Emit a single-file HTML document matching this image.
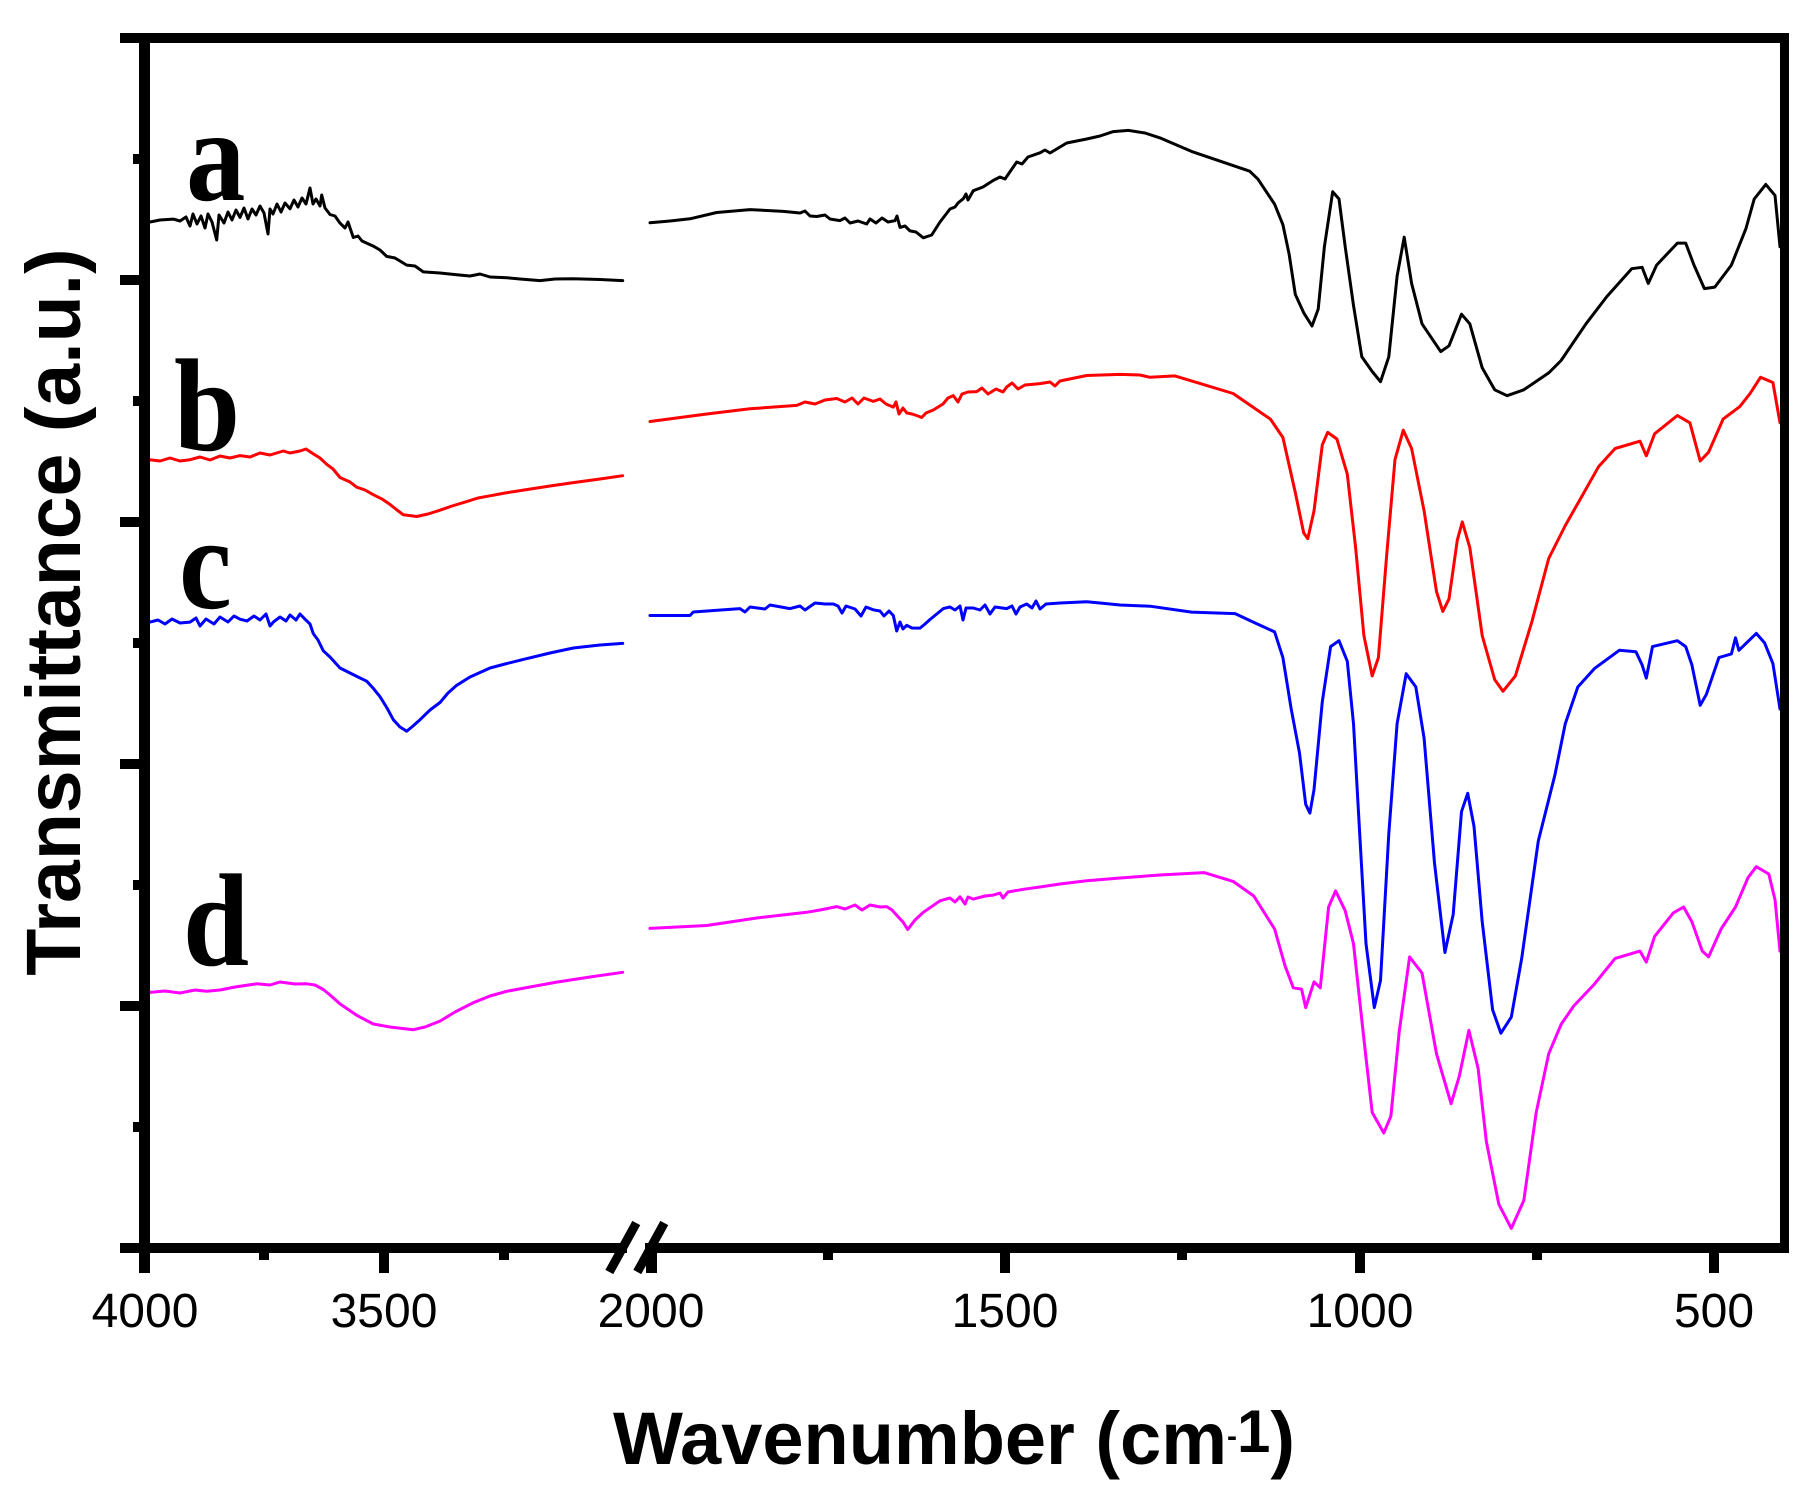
<!DOCTYPE html>
<html><head><meta charset="utf-8"><style>
html,body{margin:0;padding:0;background:#fff;}
svg{display:block;}
</style></head><body>
<svg width="1817" height="1492" viewBox="0 0 1817 1492" xmlns="http://www.w3.org/2000/svg">
<rect width="1817" height="1492" fill="#fff"/>
<g fill="none" stroke-width="3" stroke-linejoin="round" stroke-linecap="round">
<!-- black a -->
<path stroke="#000" d="M150,222 L160,220 L173.3,219.1 L180,221 L186,217 L190,226 L193,214 L197,224 L201,216 L205,228 L208,214 L212,222 L216.7,240 L219,215 L224,223 L228,212 L232,220 L236,210 L240,217.4 L244,208 L248,219 L252,209 L256,215 L260,206 L264,213 L268,234 L270,209 L273,214 L277,204 L281,212 L285,203 L290,208.8 L294,200 L298,207 L302,198 L306,204 L310,188 L313,204 L316,199 L320,206 L321.7,195 L325,208 L330,214.5 L335,216 L340,223.1 L345,228 L348,222 L353.3,237.5 L358,236 L362,241 L373.3,246.1 L380,250 L386.7,256.4 L395,258 L406.7,265.1 L415,266 L423.3,271.9 L440,273 L456.7,274.8 L470,276 L480,274 L490,277 L506.7,277.7 L520,279 L540,280.6 L555,279 L573.3,278.8 L600,279.5 L622.7,280.6"/>
<path stroke="#000" d="M650,222.8 L670,221 L690,218.8 L716.7,212.5 L750,209.6 L783.3,211.4 L800,213 L805,211 L810,216 L816.7,216.5 L825,215 L830,219 L840,220.6 L845,218 L850,223 L858,221 L866.7,224 L870,219 L876,223 L882,218 L888,222 L895,220.6 L897,216 L900,227.4 L905,226 L910,230.9 L916,232 L923.3,237.8 L931.7,235 L940,222 L950,209 L955,207 L958,203 L963.3,198.7 L966,194 L968,200 L973.3,190.7 L983,187 L993.3,180.4 L1000,177 L1005,179 L1016.7,162 L1022,164 L1028,157 L1040,152.8 L1045,150 L1050,153 L1066.7,143 L1086.7,139 L1100,136 L1113.3,131.6 L1128.3,130.4 L1145,133 L1160,137.9 L1191.5,151.4 L1249.7,171.2 L1258,179.2 L1274.6,204.2 L1282.9,224.7 L1289.1,254 L1295.3,294.4 L1303.7,312.8 L1312,326 L1318.2,309.1 L1324.4,246.7 L1332.7,191.7 L1339,199 L1345.2,246.7 L1353.5,305.4 L1361.8,356.8 L1372.2,371.5 L1380.5,381.7 L1388.8,356.8 L1397.1,276.1 L1404.2,237.2 L1411.6,283.4 L1422,323.8 L1440.7,351.6 L1449,345.8 L1461.5,314.2 L1469.8,323.8 L1482.2,367.8 L1494.7,389.8 L1507.1,395.7 L1523.8,389.8 L1548.7,372.9 L1561.1,360.5 L1586,323.8 L1606.8,296.6 L1631.7,268.7 L1642.1,267.3 L1648.3,283.4 L1656.6,265.1 L1677.4,243.1 L1685.7,243.1 L1694,265.1 L1704.4,288.6 L1714.8,287.1 L1731.4,265.1 L1746,228.4 L1754.2,199 L1765.8,184.4 L1775,195.4 L1780,246.7"/>
<!-- red b -->
<path stroke="#ff0000" d="M150,459.7 L160,461 L170,458 L180,461 L190,459.7 L200,457 L210,460 L220,456 L230,458 L240,455.6 L250,457 L260,453 L270,455 L283.3,451 L290,453 L300,451 L306,449 L313.3,453.9 L320,458 L326.7,464.3 L333,469 L340,477.5 L350,482 L356.7,487.2 L365,490 L373.3,494.7 L382,499 L390,504.4 L397,510 L403.3,514.8 L416.7,516.5 L428,514 L440,510.2 L452,506 L466.7,501.6 L478,498 L490,495.8 L505,493 L523.3,490.1 L550,486 L573.3,482.6 L600,479 L622.7,475.7"/>
<path stroke="#ff0000" d="M650,421.5 L706.7,414 L750,408.8 L796.7,405.4 L805,402 L815,404 L825,400 L836.7,398.5 L845,402 L852,398 L858,404 L864,398 L873.3,401.4 L880,399 L886,404 L893.3,407.1 L896,402 L899,414 L903,408 L906.7,412.9 L912,414 L918,416 L921.7,417.5 L926,413 L933.3,410 L943,404 L948,398 L953.3,395.6 L958,402 L962,394 L968,392 L976.7,391.6 L982,388 L988,394 L996,389 L1003,392 L1006.7,387 L1012,383 L1018,389 L1025,385 L1040,383.6 L1050,382 L1055,386 L1060,381 L1086.7,375.5 L1120,374.4 L1140,375 L1150,377.3 L1174.9,375.9 L1233.1,393.5 L1270.4,419.1 L1282.9,437.5 L1295.3,492.5 L1303.7,532.9 L1307.8,538.7 L1314,510.9 L1322.3,444.8 L1327.7,432.4 L1336.9,439 L1347.3,474.2 L1355.6,547.5 L1363.9,635.6 L1372.2,675.9 L1378.4,657.6 L1386.7,554.9 L1395,459.5 L1403.3,430.2 L1411.6,448.5 L1424.1,510.9 L1436.5,591.6 L1442.8,611.4 L1449,598.9 L1457.3,540.2 L1462.3,521.9 L1469.8,547.5 L1482.2,635.6 L1494.7,679.6 L1503,691.3 L1515.4,675.9 L1532.1,620.9 L1548.7,558.5 L1565.3,525.5 L1581.9,496.2 L1598.5,466.8 L1615.1,448.5 L1640,441.2 L1646.3,455.8 L1654.6,433.8 L1677.4,415.5 L1689.9,422.8 L1700.2,461 L1708.6,452.2 L1723.1,419.1 L1739.7,406.7 L1750.1,393.5 L1760.5,377.3 L1772.9,382.5 L1780,422.8"/>
<!-- blue c -->
<path stroke="#0000ff" d="M150,622.1 L158,620 L165,624 L172,619 L180,623 L190,622.1 L196,618 L200,626 L206,619 L214,624 L220,617 L228,622 L234,616 L240,619.2 L247,621 L254,616 L260,620 L266,614 L270,626 L273.3,622.1 L280,617 L286,621 L290,615 L296,620 L300,614 L305,619.2 L310,624 L313.3,633.6 L318,640 L323.3,650.8 L330,657 L340,668 L350,673 L358,677 L366.7,681.2 L373,688 L380,696.7 L387,708 L393.3,719.7 L400,727 L406.7,731.2 L413,726 L420,719.7 L430,710 L440,702.5 L448,693 L456.7,685.3 L470,677 L490,668 L505,664 L523.3,659.4 L550,653 L573.3,648 L600,645 L622.7,643.4"/>
<path stroke="#0000ff" d="M650,615.5 L690,615.5 L693.3,612 L740,608.6 L745,612 L750,607 L765,609 L770,605 L790,608.6 L800,606 L805,610 L815,603 L825,604 L833.3,604 L838,606 L842,613 L846,606 L855,609 L861,616 L866,607 L873.3,609.8 L880,611 L884,616 L889,611 L893.3,615.5 L896.7,631 L900,622 L903,629 L906.7,625.3 L912,628 L920,628.1 L925,624 L930,619.5 L943.3,608.6 L950,607 L955,610 L960,606 L963,620 L966,608 L973.3,608 L980,610 L985,605 L990,614 L995,607 L1006.7,608.6 L1012,606 L1016,614 L1020,607 L1026.7,604 L1032,608 L1036,601 L1040,609 L1046,604 L1060,603 L1086.7,601.7 L1100,603 L1120,605 L1150,606.2 L1191.5,612.1 L1235.1,613.6 L1253.8,622.4 L1274.6,631.9 L1282.9,657.6 L1291.2,709 L1299.5,753 L1305.7,804.3 L1309.9,813.1 L1314,789.7 L1322.3,701.6 L1330.6,646.6 L1339,640.7 L1347.3,661.3 L1353.5,723.6 L1359.7,833.7 L1366,943.7 L1374.3,1007.6 L1380.5,980.4 L1388.8,833.7 L1397.1,723.6 L1406.2,673.7 L1415.8,686.9 L1424.1,738.3 L1434.5,863 L1444.9,952.5 L1453.2,914.4 L1461.5,811.7 L1467.7,793.3 L1474,826.3 L1482.2,921.7 L1492.6,1009.7 L1500.9,1033.2 L1511.3,1017.1 L1521.7,958.4 L1538.3,841 L1554.9,775 L1565.3,723.6 L1577.8,687 L1594.4,668.6 L1619.3,650.3 L1635.9,651.7 L1642.1,664.9 L1646.3,678.1 L1652.5,646.6 L1677.4,640.7 L1685.7,646.6 L1691.9,664.9 L1700.2,705.3 L1706.4,694.3 L1718.9,657.6 L1731.4,653.9 L1735.5,637.8 L1738.9,650.3 L1756.3,633.4 L1764.6,642.9 L1772.9,663.5 L1780,709"/>
<!-- magenta d -->
<path stroke="#ff00ff" d="M150,992.4 L165,991 L180,993 L195,990 L206.7,991.3 L220,990 L235,987 L256.7,983.8 L270,985 L280,982 L295,984 L306.7,983.8 L315,985 L323.3,989.5 L330,995 L340,1003.9 L356.7,1015.3 L373.3,1024 L390,1027 L413.3,1029.7 L425,1027 L440,1021.1 L455,1012 L473.3,1002.7 L490,996 L506.7,991.3 L530,987 L556.7,982.1 L590,977 L622.7,972.3"/>
<path stroke="#ff00ff" d="M650,928.4 L706.7,925.5 L756.7,918 L806.7,912.3 L820,910 L836.7,906.6 L845,909 L855,905 L862,910 L870,905 L880,907 L886.7,906.6 L892,910 L896.7,915.2 L903,922 L907.7,929.5 L915,920 L923.3,912.3 L940,900.8 L950,898 L955,902 L960,896.8 L965,904 L968,897 L973.3,899.1 L985,896 L993.3,895.1 L1000,893 L1003,898 L1008,892 L1023.3,889.3 L1040,887 L1060,884 L1086.7,880.7 L1120,878 L1160,875 L1204,872.6 L1233.1,881.4 L1253.8,896 L1274.6,929 L1285,965.7 L1293.3,987.8 L1301.6,989.2 L1305.7,1007.6 L1314,981.9 L1320.3,987.8 L1328.6,907 L1335.6,890.9 L1345.2,910.7 L1353.5,943.7 L1363.9,1039.1 L1372.2,1112.5 L1383.8,1133 L1390.9,1116.1 L1399.2,1031.7 L1409.6,956.9 L1422,973 L1436.5,1053.8 L1451.1,1103.7 L1459.4,1075.8 L1468.9,1030.3 L1478.1,1068.4 L1486.4,1141.8 L1498.8,1204.2 L1511.3,1228.4 L1523.8,1200.5 L1536.2,1112.5 L1548.7,1053.8 L1561.1,1024.4 L1573.6,1006.1 L1594.4,984.1 L1615.1,958.4 L1640,951.1 L1646.3,962.1 L1654.6,936.4 L1673.3,912.9 L1683.6,907 L1691.9,921.7 L1702.3,951.1 L1708.6,956.9 L1721.1,929 L1735.5,907 L1748,877.7 L1756.3,866.7 L1768.8,874 L1775,899.7 L1780,951.1"/>
</g>
<!-- frame -->
<g fill="#000">
<rect x="120" y="33" width="1669" height="10"/>
<rect x="120" y="1243" width="1669" height="10"/>
<rect x="139" y="33" width="11" height="1240"/>
<rect x="1780" y="33" width="9" height="1220"/>
<!-- left ticks major -->
<rect x="120" y="275" width="20" height="10"/>
<rect x="120" y="517" width="20" height="10"/>
<rect x="120" y="759" width="20" height="10"/>
<rect x="120" y="1001" width="20" height="10"/>
<!-- left ticks minor -->
<rect x="133" y="154" width="7" height="10"/>
<rect x="133" y="396" width="7" height="10"/>
<rect x="133" y="638" width="7" height="10"/>
<rect x="133" y="880" width="7" height="10"/>
<rect x="133" y="1122" width="7" height="10"/>
<!-- bottom ticks major -->
<rect x="379" y="1253" width="10" height="20"/>
<rect x="646" y="1253" width="11" height="20"/>
<rect x="1000" y="1253" width="10" height="20"/>
<rect x="1355" y="1253" width="10" height="20"/>
<rect x="1709" y="1253" width="10" height="20"/>
<!-- bottom ticks minor -->
<rect x="259" y="1253" width="10" height="7"/>
<rect x="499" y="1253" width="10" height="7"/>
<rect x="823" y="1253" width="10" height="7"/>
<rect x="1177" y="1253" width="10" height="7"/>
<rect x="1532" y="1253" width="10" height="7"/>
</g>
<!-- axis break -->
<polygon points="627,1241 645,1241 645,1255 627,1255" fill="#fff"/>
<line x1="609.3" y1="1272" x2="636.3" y2="1223" stroke="#000" stroke-width="9"/>
<line x1="637.3" y1="1272" x2="664.3" y2="1223" stroke="#000" stroke-width="9"/>
<!-- tick labels -->
<g font-family="'Liberation Sans', Arial, sans-serif" font-size="48" fill="#000" text-anchor="middle">
<text x="145" y="1327">4000</text>
<text x="384" y="1327">3500</text>
<text x="651" y="1327">2000</text>
<text x="1005" y="1327">1500</text>
<text x="1360" y="1327">1000</text>
<text x="1714" y="1327">500</text>
</g>
<!-- axis titles -->
<text x="954" y="1464" font-family="'Liberation Sans', Arial, sans-serif" font-weight="bold" font-size="74" text-anchor="middle" fill="#000">Wavenumber (cm<tspan font-size="30" dy="-18">-</tspan><tspan font-size="60" dy="6">1</tspan><tspan font-size="74" dy="12">)</tspan></text>
<text transform="translate(80,612) rotate(-90)" font-family="'Liberation Sans', Arial, sans-serif" font-weight="bold" font-size="77" text-anchor="middle" fill="#000">Transmittance (a.u.)</text>
<!-- series labels -->
<g font-family="'Liberation Serif', 'Times New Roman', serif" font-weight="bold" font-size="132" fill="#000">
<text transform="translate(186,200) scale(0.9,1)">a</text>
<text transform="translate(174,450) scale(0.9,1)">b</text>
<text transform="translate(179,608) scale(0.9,1)">c</text>
<text transform="translate(183,965) scale(0.9,1)">d</text>
</g>
</svg>
</body></html>
